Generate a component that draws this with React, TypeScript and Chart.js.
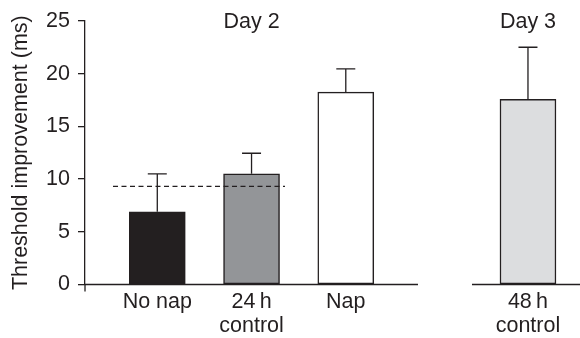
import React, { useEffect, useRef } from "react";
import { Chart, registerables } from "chart.js";

Chart.register(...registerables);

// ---- data ----
const categoryLabels: string[][] = [["No nap"], ["24\u2009h", "control"], ["Nap"], ["48\u2009h", "control"]];
const categoryPositions = [1, 2, 3, 4.933];
const meanValues = [6.9, 10.5, 18.25, 17.55];
const errorValues = [3.6, 1.95, 2.2, 4.95];
const barColors = ["#231f20", "#939598", "#ffffff", "#dcdddf"];
const dayLabels = ["Day 2", "Day 3"];
const dayPositions = [2, 4.933];
const referenceValue = 9.3;
const referenceSpan = [0.53, 2.355];
const axisSegments = [
  [0.233, 3.766],
  [4.339, 5.485],
];
const yMin = 0;
const yMax = 25;
const yStep = 5;
const xMin = 0.233;
const xMax = 5.485;

const INK = "#231f20";
const FONT = '"Liberation Sans", Arial, Helvetica, sans-serif';
const FONT_SIZE = 21.5;

const overlayPlugin = {
  id: "overlay",
  afterDatasetsDraw(chart: any) {
    const { ctx, scales } = chart;
    const x = scales.x;
    const y = scales.y;
    const y0 = y.getPixelForValue(0);
    ctx.save();
    ctx.strokeStyle = INK;
    ctx.lineWidth = 1.3;
    // broken baseline
    axisSegments.forEach(([a, b]) => {
      ctx.beginPath();
      ctx.moveTo(x.getPixelForValue(a), y0);
      ctx.lineTo(x.getPixelForValue(b), y0);
      ctx.stroke();
    });
    // y axis stub below zero
    const ax = chart.chartArea.left;
    ctx.beginPath();
    ctx.moveTo(ax, y0);
    ctx.lineTo(ax, y0 + 7);
    ctx.stroke();
    // dashed reference line
    ctx.lineWidth = 1.2;
    ctx.setLineDash([5, 3.5]);
    ctx.beginPath();
    const ry = y.getPixelForValue(referenceValue);
    ctx.moveTo(x.getPixelForValue(referenceSpan[0]), ry);
    ctx.lineTo(x.getPixelForValue(referenceSpan[1]), ry);
    ctx.stroke();
    ctx.setLineDash([]);
    // error bars
    ctx.lineWidth = 1.3;
    meanValues.forEach((m, i) => {
      const px = x.getPixelForValue(categoryPositions[i]);
      const yb = y.getPixelForValue(m);
      const yt = y.getPixelForValue(m + errorValues[i]);
      ctx.beginPath();
      ctx.moveTo(px, yb);
      ctx.lineTo(px, yt);
      ctx.moveTo(px - 9.5, yt);
      ctx.lineTo(px + 9.5, yt);
      ctx.stroke();
    });
    // day labels
    ctx.fillStyle = INK;
    ctx.font = `${FONT_SIZE}px ${FONT}`;
    ctx.textAlign = "center";
    ctx.textBaseline = "alphabetic";
    dayLabels.forEach((t, i) => {
      ctx.fillText(t, x.getPixelForValue(dayPositions[i]), 28);
    });
    ctx.restore();
  },
};

export default function App() {
  const ref = useRef<HTMLCanvasElement | null>(null);
  useEffect(() => {
    if (!ref.current) return;
    const chart = new Chart(ref.current, {
      type: "bar",
      data: {
        datasets: [
          {
            data: meanValues.map((v, i) => ({ x: categoryPositions[i], y: v })),
            backgroundColor: barColors,
            borderColor: INK,
            borderWidth: 1.5,
            borderSkipped: false,
            barThickness: 56,
          } as any,
        ],
      },
      options: {
        animation: false,
        responsive: false,
        devicePixelRatio: 1,
        layout: { padding: { top: 17.5, left: 0, right: 0, bottom: 0 } },
        plugins: { legend: { display: false }, tooltip: { enabled: false } },
        scales: {
          x: {
            type: "linear",
            min: xMin,
            max: xMax,
            offset: false,
            grid: { display: false, drawTicks: false },
            border: { display: false },
            afterBuildTicks: (scale: any) => {
              scale.ticks = categoryPositions.map((v) => ({ value: v }));
            },
            afterFit: (scale: any) => {
              scale.height = 53.5;
            },
            ticks: {
              autoSkip: false,
              maxRotation: 0,
              padding: 6,
              color: INK,
              font: { family: FONT, size: FONT_SIZE, lineHeight: 24 / FONT_SIZE },
              callback: (_v: any, i: number) => categoryLabels[i],
            },
          },
          y: {
            min: yMin,
            max: yMax,
            grid: {
              drawOnChartArea: false,
              drawTicks: true,
              tickLength: 7,
              color: INK,
              lineWidth: 1.3,
            },
            border: { display: true, color: INK, width: 1.3 },
            afterFit: (scale: any) => {
              scale.width = 85;
            },
            ticks: {
              stepSize: yStep,
              padding: 8,
              color: INK,
              font: { family: FONT, size: FONT_SIZE },
            },
            title: {
              display: true,
              text: "Threshold improvement (ms)",
              color: INK,
              font: { family: FONT, size: FONT_SIZE, lineHeight: 1.2 },
              padding: { top: 8.5, bottom: 0 },
            },
          },
        },
      },
      plugins: [overlayPlugin],
    } as any);
    return () => chart.destroy();
  }, []);
  return (
    <div style={{ position: "absolute", left: 0, top: 0, width: 580, height: 338, background: "#fff" }}>
      <canvas ref={ref} width={580} height={338} style={{ display: "block" }} />
    </div>
  );
}
